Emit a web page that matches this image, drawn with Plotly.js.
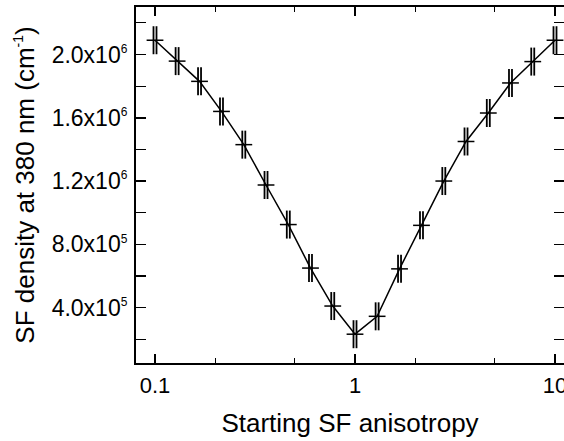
<!DOCTYPE html>
<html>
<head>
<meta charset="utf-8">
<script src="https://cdn.plot.ly/plotly-3.0.1.min.js"></script>
<style>html,body{margin:0;padding:0;background:#fff;}#chart{width:564px;height:441px;}</style>
</head>
<body>
<div id="chart"></div>
<script>
const anisotropy = [0.1, 0.129, 0.167, 0.215, 0.278, 0.359, 0.464, 0.599, 0.774, 1.0, 1.29, 1.67, 2.15, 2.78, 3.59, 4.64, 5.99, 7.74, 10.0];
const sfDensity = [2.09e6, 1.958e6, 1.83e6, 1.64e6, 1.43e6, 1.175e6, 0.925e6, 0.65e6, 0.41e6, 0.232e6, 0.345e6, 0.645e6, 0.92e6, 1.2e6, 1.45e6, 1.63e6, 1.82e6, 1.955e6, 2.09e6];
const yTickVals = [4e5, 8e5, 1.2e6, 1.6e6, 2.0e6];
const yTickText = ['4.0x10<sup><span style="font-size:12px">5</span></sup>', '8.0x10<sup><span style="font-size:12px">5</span></sup>', '1.2x10<sup><span style="font-size:12px">6</span></sup>', '1.6x10<sup><span style="font-size:12px">6</span></sup>', '2.0x10<sup><span style="font-size:12px">6</span></sup>'];
const yMinorVals = [2e5, 6e5, 1.0e6, 1.4e6, 1.8e6, 2.2e6];
const xTickVals = [0.1, 1, 10];
const xTickText = ['0.1', '1', '10'];

const font = {family: 'Liberation Sans, Arial, sans-serif', color: '#000'};
const xRange = [-1.095, 1.045];
const pxShift = 0.0075; // ~1.5 px in decades, offsets the twin vertical strokes of each marker

const lineTrace = {
  x: anisotropy, y: sfDensity, type: 'scatter', mode: 'lines+markers',
  line: {color: '#000', width: 1.5},
  marker: {symbol: 'line-ew-open', size: 12, color: '#000', line: {color: '#000', width: 1.5}},
  hoverinfo: 'skip'
};
const strokeA = {
  x: anisotropy, y: sfDensity, type: 'scatter', mode: 'markers', xaxis: 'x2',
  marker: {symbol: 'line-ns-open', size: 20, color: '#000', line: {color: '#000', width: 1.8}},
  hoverinfo: 'skip'
};
const strokeB = {
  x: anisotropy, y: sfDensity, type: 'scatter', mode: 'markers', xaxis: 'x3',
  marker: {symbol: 'line-ns-open', size: 20, color: '#000', line: {color: '#000', width: 1.8}},
  hoverinfo: 'skip'
};

const hiddenAxis = (shift) => ({type: 'log', range: [xRange[0] + shift, xRange[1] + shift], overlaying: 'x', visible: false, fixedrange: true});

const layout = {
  width: 564, height: 441,
  margin: {l: 136, r: 0, t: 7, b: 78},
  paper_bgcolor: '#fff', plot_bgcolor: '#fff',
  showlegend: false,
  font: Object.assign({size: 23}, font),
  xaxis: {
    type: 'log', range: xRange,
    tickvals: xTickVals, ticktext: xTickText,
    ticks: 'inside', ticklen: 9, tickwidth: 1.5, tickcolor: '#000',
    minor: {ticks: 'inside', ticklen: 5, tickwidth: 1.2, tickcolor: '#000', dtick: 'D2', showgrid: false},
    showline: true, linecolor: '#000', linewidth: 2, mirror: 'allticks',
    showgrid: false, zeroline: false,
    ticklabeloverflow: 'allow',
    ticklabelstandoff: 2,
    tickfont: Object.assign({size: 22}, font),
    title: {text: 'Starting SF anisotropy', font: Object.assign({size: 26}, font), standoff: 16}
  },
  xaxis2: hiddenAxis(-pxShift),
  xaxis3: hiddenAxis(pxShift),
  yaxis: {
    range: [5e4, 2.3e6],
    tickvals: yTickVals, ticktext: yTickText,
    ticks: 'inside', ticklen: 10, tickwidth: 1.5, tickcolor: '#000',
    minor: {ticks: 'inside', ticklen: 5, tickwidth: 1.2, tickcolor: '#000', tickvals: yMinorVals, showgrid: false},
    showline: true, linecolor: '#000', linewidth: 2, mirror: 'allticks',
    showgrid: false, zeroline: false,
    ticklabelstandoff: 2,
    tickfont: Object.assign({size: 23}, font),
    title: {text: 'SF density at 380 nm (cm<sup><span style="font-size:14px">-1</span></sup>)', font: Object.assign({size: 26}, font), standoff: 10}
  }
};

Plotly.newPlot('chart', [lineTrace, strokeA, strokeB], layout, {displayModeBar: false, staticPlot: true});
</script>
</body>
</html>
